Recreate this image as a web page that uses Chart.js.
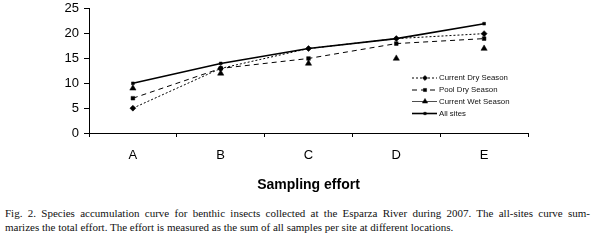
<!DOCTYPE html>
<html>
<head>
<meta charset="utf-8">
<script src="https://cdn.jsdelivr.net/npm/chart.js@4.4.1/dist/chart.umd.min.js"></script>
<style>
  html, body { margin: 0; padding: 0; background: #fff; }
  #wrap { position: relative; width: 595px; height: 243px; overflow: hidden; }
  #chartBox { position: absolute; left: 0; top: -4px; width: 595px; height: 204px; }
  .cap {
    position: absolute; left: 5px; width: 585px; white-space: nowrap;
    font-family: "Liberation Serif", "Times New Roman", serif;
    font-size: 11px; line-height: 13px; color: #111;
  }
  #cap1 { top: 207px; text-align: justify; text-align-last: justify; white-space: normal; }
  #cap2 { top: 221px; text-align: left; }
</style>
</head>
<body>
<div id="wrap">
  <div id="chartBox"><canvas id="c" width="595" height="204"></canvas></div>
  <div id="cap1" class="cap">Fig. 2. Species accumulation curve for benthic insects collected at the Esparza River during 2007. The all-sites curve sum-</div>
  <div id="cap2" class="cap">marizes the total effort. The effort is measured as the sum of all samples per site at different locations.</div>
</div>
<script>
const categories = ["A", "B", "C", "D", "E"];
const seriesNames = ["Current Dry Season", "Pool Dry Season", "Current Wet Season", "All sites"];
const currentDry = [5, 13, 17, 19, 20];
const poolDry = [7, 13, 15, 18, 19];
const currentWet = [9, 12, 14, 15, 17];
const allSites = [10, 14, 17, 19, 22];
const yTicks = [0, 5, 10, 15, 20, 25];
const xTitle = "Sampling effort";

const styles = [
  { dash: [2, 2], width: 1, point: 'rectRot', radius: 3, showLine: true },
  { dash: [5, 4], width: 1, point: 'rect', radius: 2.6, showLine: true },
  { dash: [], width: 0.7, point: 'triangle', radius: 3.6, showLine: false },
  { dash: [], width: 1.6, point: 'rect', radius: 2, showLine: true }
];
const seriesData = [currentDry, poolDry, currentWet, allSites];

const datasets = seriesData.map((d, i) => ({
  label: seriesNames[i],
  data: d,
  borderColor: '#000',
  backgroundColor: '#000',
  borderWidth: styles[i].width,
  borderDash: styles[i].dash,
  pointStyle: styles[i].point,
  pointRadius: styles[i].radius,
  pointBorderWidth: 0.5,
  pointBackgroundColor: '#000',
  pointBorderColor: '#000',
  showLine: styles[i].showLine,
  fill: false,
  tension: 0,
  order: 3 - i
}));

const legendPlugin = {
  id: 'customLegend',
  afterDraw(chart) {
    const ctx = chart.ctx;
    const x0 = 412, x1 = 437, xm = 425;
    const rows = [82, 94, 105.5, 117.5];
    ctx.save();
    ctx.font = '7.8px "Liberation Sans", Arial, sans-serif';
    ctx.textBaseline = 'middle';
    ctx.textAlign = 'left';
    seriesNames.forEach((name, i) => {
      const y = rows[i];
      const s = styles[i];
      ctx.strokeStyle = '#000';
      ctx.lineWidth = s.width;
      ctx.setLineDash(s.dash);
      ctx.beginPath();
      ctx.moveTo(x0, y);
      ctx.lineTo(x1, y);
      ctx.stroke();
      ctx.setLineDash([]);
      ctx.fillStyle = '#000';
      ctx.lineWidth = 0.5;
      Chart.helpers.drawPoint(ctx, { pointStyle: s.point, radius: s.radius * 0.85, rotation: 0, borderWidth: 0.5 }, xm, y);
      ctx.fillStyle = '#111';
      ctx.fillText(name, 439, y);
    });
    ctx.restore();
  }
};

new Chart(document.getElementById('c'), {
  type: 'line',
  data: { labels: categories, datasets },
  plugins: [legendPlugin],
  options: {
    responsive: false,
    animation: false,
    layout: { padding: { left: 0, right: 67, top: 0, bottom: 0 } },
    plugins: { legend: { display: false }, tooltip: { enabled: false } },
    scales: {
      x: {
        type: 'category',
        offset: true,
        grid: { display: true, drawOnChartArea: false, drawTicks: true, tickLength: 4, offset: true, color: '#000', lineWidth: 1 },
        border: { display: true, color: '#000', width: 1 },
        ticks: { color: '#000', font: { family: '"Liberation Sans", Arial, sans-serif', size: 13 }, padding: 11, maxRotation: 0 },
        title: { display: true, text: xTitle, color: '#000', font: { family: '"Liberation Sans", Arial, sans-serif', size: 14, weight: 'bold' }, padding: { top: 4, bottom: 6 } },
        afterFit(scale) { scale.height = 67; }
      },
      y: {
        min: 0, max: 25,
        afterBuildTicks(scale) { scale.ticks = yTicks.map(v => ({ value: v })); },
        grid: { display: true, drawOnChartArea: false, drawTicks: true, tickLength: 5, color: '#000', lineWidth: 1 },
        border: { display: true, color: '#000', width: 1 },
        ticks: { color: '#000', font: { family: '"Liberation Sans", Arial, sans-serif', size: 13 }, padding: 5 },
        afterFit(scale) { scale.width = 89; }
      }
    }
  }
});
</script>
</body>
</html>
